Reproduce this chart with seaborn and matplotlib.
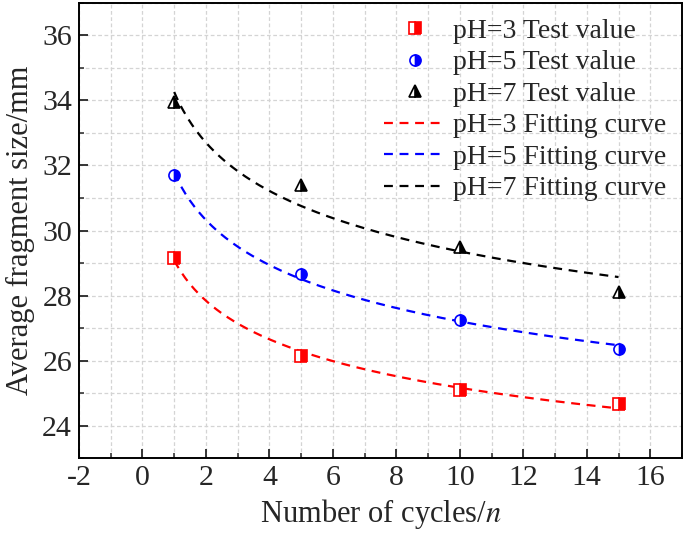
import numpy as np
import pandas as pd
import seaborn as sns
from matplotlib import pyplot as plt
from matplotlib.ticker import MultipleLocator

cycles = [1, 5, 10, 15]
ph3_size = [29.15, 26.15, 25.1, 24.65]
ph5_size = [31.7, 28.65, 27.25, 26.35]
ph7_size = [33.95, 31.4, 29.5, 28.1]

labels_test = ["pH=3 Test value", "pH=5 Test value", "pH=7 Test value"]
labels_fit = ["pH=3 Fitting curve", "pH=5 Fitting curve", "pH=7 Fitting curve"]
colors = ["#ff0000", "#0000ff", "#000000"]
markers = ["s", "o", "^"]

sns.set_style("ticks")
plt.rcParams["font.family"] = ["Liberation Serif", "DejaVu Serif"]
plt.rcParams["mathtext.fontset"] = "stix"

fig = plt.figure(figsize=(6.85, 5.34), dpi=100)
ax = fig.add_axes([0.1153, 0.1423, 0.8803, 0.8521])

xfit = np.linspace(1, 15, 200)
series = [ph3_size, ph5_size, ph7_size]

# power-law fit y = a * x^b for each series
for vals, c, lab in zip(series, colors, labels_fit):
    b, lna = np.polyfit(np.log(cycles), np.log(vals), 1)
    yfit = np.exp(lna) * xfit ** b
    df = pd.DataFrame({"x": xfit, "y": yfit})
    sns.lineplot(data=df, x="x", y="y", ax=ax, color=c, lw=1.6,
                 dashes=False, label=lab, zorder=2)
    ax.lines[-1].set_dashes((4, 3))

handles_test = []
for vals, c, m, lab in zip(series, colors, markers, labels_test):
    h, = ax.plot(cycles, vals, linestyle="none", marker=m, markersize=8,
                 color=c, markerfacecolor=c, markerfacecoloralt="white",
                 markeredgecolor=c, markeredgewidth=1.2, fillstyle="right",
                 label=lab, zorder=3)
    handles_test.append(h)

handles_fit = ax.lines[:3]

ax.set_xlim(-2, 17)
ax.set_ylim(23, 37)
ax.xaxis.set_major_locator(MultipleLocator(2))
ax.xaxis.set_minor_locator(MultipleLocator(1))
ax.yaxis.set_major_locator(MultipleLocator(2))
ax.yaxis.set_minor_locator(MultipleLocator(1))
ax.grid(True, which="both", linestyle=(0, (3, 2)), color="#d4d4d4", lw=0.9)
ax.set_axisbelow(True)
ax.tick_params(which="major", direction="in", length=6.5, width=1.3,
               labelsize=21.5, top=False, right=False, pad=5)
ax.tick_params(which="minor", direction="in", length=3.3, width=1.1,
               top=False, right=False)
ax.set_xticklabels([f"{int(t)}" for t in ax.get_xticks()])
for s in ax.spines.values():
    s.set_linewidth(1.4)
    s.set_color("black")

ax.set_xlabel("Number of cycles/$n$", fontsize=22, labelpad=4)
ax.set_ylabel("Average fragment size/mm", fontsize=22, labelpad=5)

ax.legend(handles_test + list(handles_fit), labels_test + labels_fit,
          loc="upper right", bbox_to_anchor=(1.0, 1.0), frameon=False,
          fontsize=20, handlelength=2.2, handletextpad=0.3,
          labelspacing=0.22, borderaxespad=0.15)

fig.savefig("out.png", dpi=100)
